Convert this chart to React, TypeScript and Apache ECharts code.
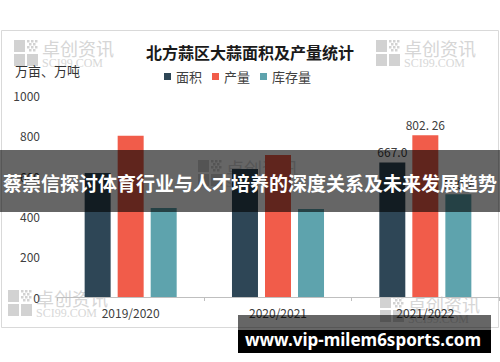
import React, { useEffect, useRef } from "react";
import * as echarts from "echarts";

const categories = ["2019/2020", "2020/2021", "2021/2022"];
const seriesNames = ["面积", "产量", "库存量"];
const areaValues = [615, 635, 667.0];
const outputValues = [800, 705, 802.26];
const stockValues = [442, 437, 510];
const areaLabels = ["", "", "667.0"];
const outputLabels = ["", "", "802. 26"];
const stockLabels = ["", "", "510.7"];
const yTicks = { min: 0, max: 1000, interval: 200 };
const titleText = "北方蒜区大蒜面积及产量统计";
const unitText = "万亩、万吨";
const bannerText = "蔡崇信探讨体育行业与人才培养的深度关系及未来发展趋势";
const urlText = "www.vip-milem6sports.com";

const colors = ["#2e4656", "#f15c4a", "#5ea3ad"];
const CJK = "'Noto Sans CJK SC', 'Noto Sans', sans-serif";

function watermark(x: number, y: number) {
  const c = "#d2d2d2";
  const children: any[] = [
    { type: "rect", shape: { x: 0, y: 0, width: 11, height: 12 }, style: { fill: c } },
    { type: "rect", shape: { x: 0, y: 14, width: 11, height: 12 }, style: { fill: c } },
    { type: "rect", shape: { x: 13, y: 14, width: 11, height: 12 }, style: { fill: c } },
  ];
  const dots = [
    [13, 0], [17, 0], [21, 0], [15, 3], [19, 3], [13, 6], [17, 6], [21, 6], [15, 9], [19, 9],
  ];
  dots.forEach(([dx, dy]) =>
    children.push({ type: "rect", shape: { x: dx, y: dy, width: 2.5, height: 2.5 }, style: { fill: c } })
  );
  children.push({
    type: "text",
    x: 28,
    y: -1,
    style: { text: "卓创资讯", fill: "#d6d6d6", font: `18px ${CJK}` },
  });
  children.push({
    type: "text",
    x: 28,
    y: 17,
    style: { text: "SCI99.COM", fill: "#d8d8d8", font: "12px 'Liberation Serif', serif" },
  });
  return { type: "group", x, y, z: 0, silent: true, children };
}

function labeled(values: number[], labels: string[]) {
  return values.map((v, i) =>
    labels[i]
      ? {
          value: v,
          label: {
            show: true,
            position: "top",
            formatter: labels[i],
            color: "#404040",
            fontSize: 12,
            fontFamily: CJK,
          },
        }
      : v
  );
}

export default function App() {
  const ref = useRef<HTMLDivElement>(null);
  useEffect(() => {
    if (!ref.current) return;
    const chart = echarts.init(ref.current, null, { renderer: "svg" });
    chart.setOption({
      animation: false,
      backgroundColor: "#ffffff",
      color: colors,
      title: {
        text: titleText,
        left: "center",
        top: 39,
        textStyle: { fontSize: 16, fontWeight: "bold", color: "#1a1a1a", fontFamily: CJK },
      },
      legend: {
        left: 159,
        top: 65,
        icon: "rect",
        itemWidth: 7,
        itemHeight: 7,
        itemGap: 10,
        textStyle: { fontSize: 13, color: "#404040", fontFamily: CJK },
        data: seriesNames,
      },
      grid: { left: 57, right: 1, top: 95.5, bottom: 65, containLabel: false },
      xAxis: {
        type: "category",
        data: categories,
        axisLine: { lineStyle: { color: "#bfbfbf" } },
        axisTick: { show: true, length: 4, lineStyle: { color: "#bfbfbf" } },
        axisLabel: { color: "#404040", fontSize: 12, margin: 9, fontFamily: CJK },
      },
      yAxis: {
        type: "value",
        min: yTicks.min,
        max: yTicks.max,
        interval: yTicks.interval,
        axisLine: { show: false },
        axisTick: { show: false },
        splitLine: { show: false },
        axisLabel: {
          color: "#404040",
          fontSize: 12,
          margin: 17,
          fontFamily: CJK,
          formatter: (v: number) => String(v),
        },
      },
      series: [
        { name: seriesNames[0], type: "bar", barWidth: 26, barGap: "27%", data: labeled(areaValues, areaLabels) },
        { name: seriesNames[1], type: "bar", barWidth: 26, barGap: "27%", data: labeled(outputValues, outputLabels) },
        { name: seriesNames[2], type: "bar", barWidth: 26, barGap: "27%", data: labeled(stockValues, stockLabels) },
      ],
      graphic: [
        {
          type: "rect",
          z: -1,
          silent: true,
          shape: { x: 1.5, y: 30.5, width: 497, height: 297 },
          style: { fill: "none", stroke: "#d9d9d9", lineWidth: 1 },
        },
        watermark(14, 40),
        watermark(376, 40),
        watermark(8, 290),
        watermark(380, 296),
        watermark(198, 160),
        {
          type: "text",
          x: 15,
          y: 64,
          z: 50,
          style: { text: unitText, fill: "#333333", font: `13px ${CJK}` },
        },
        {
          type: "rect",
          z: 100,
          silent: true,
          shape: { x: 0, y: 150, width: 500, height: 62 },
          style: { fill: "rgba(0,0,0,0.6)" },
        },
        {
          type: "text",
          z: 101,
          x: 250,
          y: 182,
          style: {
            text: bannerText,
            fill: "#ffffff",
            font: `bold 19px ${CJK}`,
            textAlign: "center",
            textVerticalAlign: "middle",
          },
        },
        {
          type: "rect",
          z: 100,
          silent: true,
          shape: { x: 238, y: 315, width: 253, height: 15 },
          style: { fill: "rgba(0,0,0,0.6)" },
        },
        {
          type: "rect",
          z: 100,
          silent: true,
          shape: { x: 238, y: 330, width: 253, height: 23 },
          style: { fill: "#000000" },
        },
        {
          type: "text",
          z: 101,
          x: 363,
          y: 339,
          style: {
            text: urlText,
            fill: "#ffffff",
            font: "bold 17px 'Noto Sans', sans-serif",
            textAlign: "center",
            textVerticalAlign: "middle",
          },
        },
      ],
    });
    return () => chart.dispose();
  }, []);
  return (
    <div
      ref={ref}
      style={{ position: "fixed", left: 0, top: 0, width: 500, height: 362 }}
    />
  );
}
